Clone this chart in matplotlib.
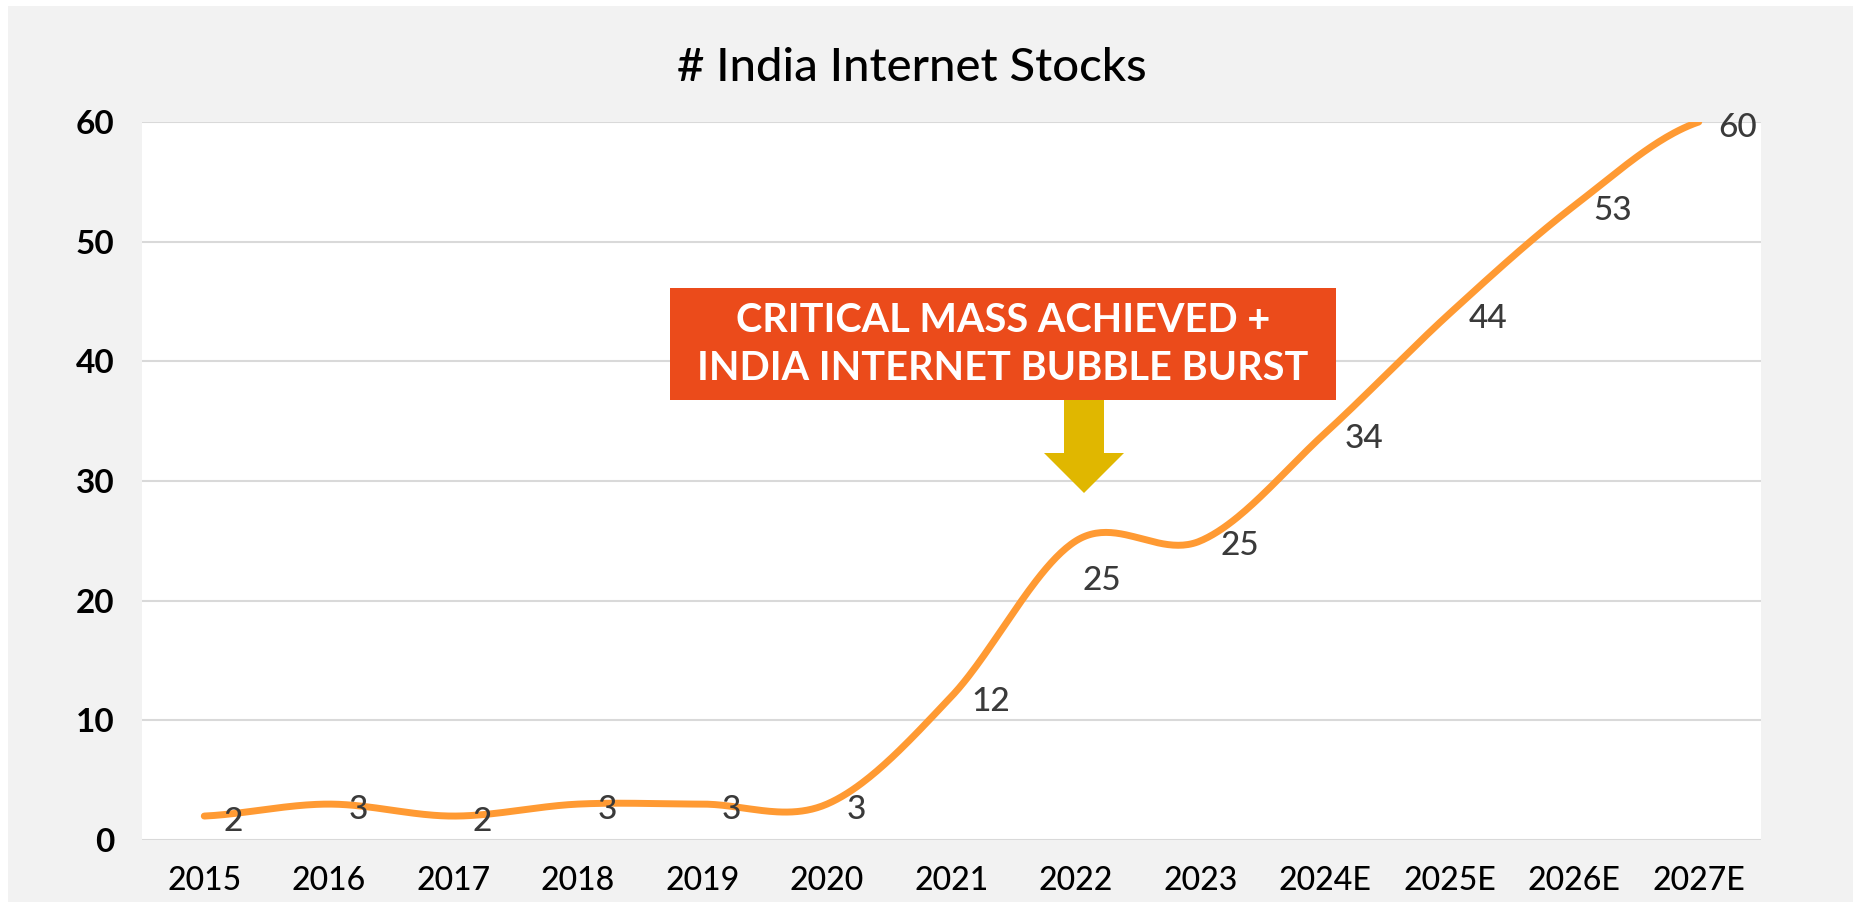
import numpy as np
import matplotlib
matplotlib.use('Agg')
import matplotlib.pyplot as plt
from matplotlib.patches import Rectangle, Polygon

# ---- data ----
years = ['2015', '2016', '2017', '2018', '2019', '2020', '2021', '2022',
         '2023', '2024E', '2025E', '2026E', '2027E']
counts = [2, 3, 2, 3, 3, 3, 12, 25, 25, 34, 44, 53, 60]
y_ticks = [0, 10, 20, 30, 40, 50, 60]
title = '# India Internet Stocks'
callout_lines = ['CRITICAL MASS ACHIEVED +', 'INDIA INTERNET BUBBLE BURST']

# label offsets (points) - style only
label_dx = [14] * len(counts)
label_dy = [-4] * len(counts)
label_dx[7] = 5
label_dy[7] = -29

plt.rcParams['font.family'] = ['Lato', 'DejaVu Sans']

W, H = 1859, 902
fig = plt.figure(figsize=(W / 100, H / 100), dpi=100)
fig.patch.set_facecolor('white')
fig.patches.append(Rectangle((8 / W, 0), (1853 - 8) / W, (H - 6) / H,
                             transform=fig.transFigure, facecolor='#F2F2F2',
                             edgecolor='none', zorder=-10))

ax = fig.add_axes([142 / W, 62 / H, 1619 / W, 718 / H])
ax.set_facecolor('white')
ax.set_zorder(1)

x = np.arange(len(years), dtype=float)
y = np.array(counts, dtype=float)


def catmull_rom(x, y, n=50):
    yp = np.concatenate([[y[0]], y, [y[-1]]])
    xs, ys = [], []
    t = np.linspace(0, 1, n, endpoint=False)
    h00 = 2 * t**3 - 3 * t**2 + 1
    h10 = t**3 - 2 * t**2 + t
    h01 = -2 * t**3 + 3 * t**2
    h11 = t**3 - t**2
    for i in range(len(y) - 1):
        m0 = (yp[i + 2] - yp[i]) / 2
        m1 = (yp[i + 3] - yp[i + 1]) / 2
        xs.append(x[i] + t * (x[i + 1] - x[i]))
        ys.append(h00 * y[i] + h10 * m0 + h01 * y[i + 1] + h11 * m1)
    xs.append([x[-1]])
    ys.append([y[-1]])
    return np.concatenate(xs), np.concatenate(ys)


sx, sy = catmull_rom(x, y)
ax.plot(sx, sy, color='#FF9A33', lw=5, solid_capstyle='round', zorder=3)

for i, (xi, yi) in enumerate(zip(x, counts)):
    ax.annotate(str(yi), (xi, yi), xytext=(label_dx[i], label_dy[i]),
                textcoords='offset points', ha='left', va='center',
                fontsize=24, fontweight='medium', color='#3A3A3A', zorder=4,
                annotation_clip=False)

ax.set_xlim(-0.5, len(years) - 0.5)
ax.set_ylim(0, 60)
ax.set_yticks(y_ticks)
ax.set_yticklabels([str(v) for v in y_ticks], fontsize=24, fontweight='bold')
ax.set_xticks(x)
ax.set_xticklabels(years, fontsize=23, fontweight='medium')
ax.tick_params(axis='both', length=0, colors='black')
ax.tick_params(axis='y', pad=20)
ax.tick_params(axis='x', pad=19)
ax.grid(axis='y', color='#D9D9D9', lw=1.5)
ax.set_axisbelow(True)
for s in ax.spines.values():
    s.set_visible(False)

fig.text(912 / W, 1 - 68 / H, title, ha='center', va='center', fontsize=34,
         fontweight='medium', color='black')

# callout box
bx0, by0, bx1, by1 = 670, 288, 1336, 400
fig.patches.append(Rectangle((bx0 / W, 1 - by1 / H), (bx1 - bx0) / W, (by1 - by0) / H,
                             transform=fig.transFigure, facecolor='#EB4B1B',
                             edgecolor='none', zorder=5))
for k, line in enumerate(callout_lines):
    fig.text((bx0 + bx1) / 2 / W, 1 - (320 + 48 * k) / H, line, ha='center',
             va='center', fontsize=28.5, fontweight='bold', color='white', zorder=6)

# arrow
arrow_px = [(1064, 400), (1104, 400), (1104, 453), (1124, 453), (1084, 493),
            (1044, 453), (1064, 453)]
fig.patches.append(Polygon([(px / W, 1 - py / H) for px, py in arrow_px],
                           closed=True, transform=fig.transFigure,
                           facecolor='#E0B700', edgecolor='none', zorder=5))

fig.savefig('out.png', dpi=100, facecolor=fig.get_facecolor())
